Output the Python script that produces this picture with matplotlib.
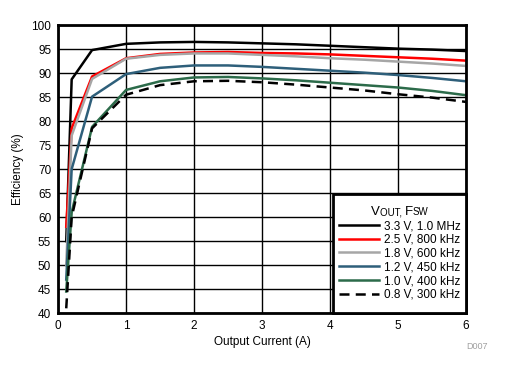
import matplotlib
matplotlib.use('Agg')
import matplotlib.pyplot as plt
from matplotlib.offsetbox import TextArea, HPacker, VPacker, DrawingArea

plt.rcParams['font.family'] = ['Liberation Sans', 'DejaVu Sans']

# Output current (A)
current = [0.12, 0.2, 0.5, 1.0, 1.5, 2.0, 2.5, 3.0, 3.5, 4.0, 4.5, 5.0, 5.5, 6.0]

# Efficiency (%) for each output voltage / switching frequency
eff_3v3 = [55.0, 88.7, 94.8, 96.1, 96.4, 96.5, 96.4, 96.2, 96.0, 95.7, 95.4, 95.1, 94.9, 94.6]
eff_2v5 = [58.0, 78.5, 89.3, 93.1, 94.0, 94.3, 94.4, 94.2, 94.1, 93.9, 93.6, 93.3, 93.0, 92.6]
eff_1v8 = [50.0, 77.0, 88.8, 93.0, 93.8, 94.1, 94.1, 93.8, 93.5, 93.1, 92.8, 92.4, 92.0, 91.5]
eff_1v2 = [47.0, 70.0, 85.1, 89.8, 91.1, 91.6, 91.6, 91.3, 90.9, 90.5, 90.1, 89.6, 89.0, 88.3]
eff_1v0 = [44.5, 61.0, 78.8, 86.5, 88.3, 89.1, 89.2, 88.9, 88.5, 88.0, 87.5, 87.0, 86.3, 85.4]
eff_0v8 = [41.0, 60.0, 78.5, 85.5, 87.5, 88.3, 88.4, 88.1, 87.6, 87.0, 86.4, 85.6, 84.9, 84.0]

labels = ['3.3 V, 1.0 MHz', '2.5 V, 800 kHz', '1.8 V, 600 kHz',
          '1.2 V, 450 kHz', '1.0 V, 400 kHz', '0.8 V, 300 kHz']
series = [eff_3v3, eff_2v5, eff_1v8, eff_1v2, eff_1v0, eff_0v8]
colors = ['#000000', '#FF0000', '#A6A6A6', '#2E5F7A', '#2C6B4A', '#000000']
styles = ['-', '-', '-', '-', '-', (0, (4, 2.5))]

x_ticks = [0, 1, 2, 3, 4, 5, 6]
y_ticks = list(range(40, 101, 5))

fig = plt.figure(figsize=(5.05, 3.75), dpi=100)
ax = fig.add_axes([0.115, 0.165, 0.808, 0.768])

for vals, lab, col, ls in zip(series, labels, colors, styles):
    ax.plot(current, vals, color=col, linestyle=ls, linewidth=1.8, label=lab)

ax.set_xlim(0, 6)
ax.set_ylim(40, 100)
ax.set_xticks(x_ticks)
ax.set_yticks(y_ticks)
ax.grid(True, color='black', linewidth=1.0)
ax.set_axisbelow(True)
ax.tick_params(length=0, labelsize=8.5, pad=5)
for sp in ax.spines.values():
    sp.set_linewidth(2)

ax.set_xlabel('Output Current (A)', fontsize=8.5, labelpad=3)
ax.set_ylabel('Efficiency (%)', fontsize=8.5, labelpad=5)

# legend sits flush in the lower right corner, square black frame
leg = ax.legend(loc='lower right', fontsize=8.5, frameon=True, fancybox=False,
                title=' ', title_fontsize=9, borderaxespad=0, handlelength=3.4,
                labelspacing=0.15, borderpad=0.45, handletextpad=0.45)
leg.get_frame().set_edgecolor('black')
leg.get_frame().set_linewidth(2)
leg.get_frame().set_alpha(1)

# title with small-caps style subscripts: V OUT, F SW
big = dict(fontsize=9.5, color='black')
small = dict(fontsize=7, color='black')
title_row = HPacker(children=[TextArea('V', textprops=big),
                              TextArea('OUT, ', textprops=small),
                              TextArea('F', textprops=big),
                              TextArea('SW', textprops=small)],
                    align='baseline', pad=0, sep=0)
title_box = VPacker(children=[DrawingArea(1, 5), title_row], sep=0, pad=0,
                    align='center')
title_box.set_figure(fig)
handles_box = VPacker(children=[leg._legend_box._children[1], DrawingArea(1, 5)],
                      sep=0, pad=0, align='left')
handles_box.set_figure(fig)
leg._legend_box._children[0] = title_box
leg._legend_box._children[1] = handles_box

fig.text(0.966, 0.07, 'D007', color='#A0A0A0', fontsize=6.5, ha='right')

fig.savefig('out.png', dpi=100)
